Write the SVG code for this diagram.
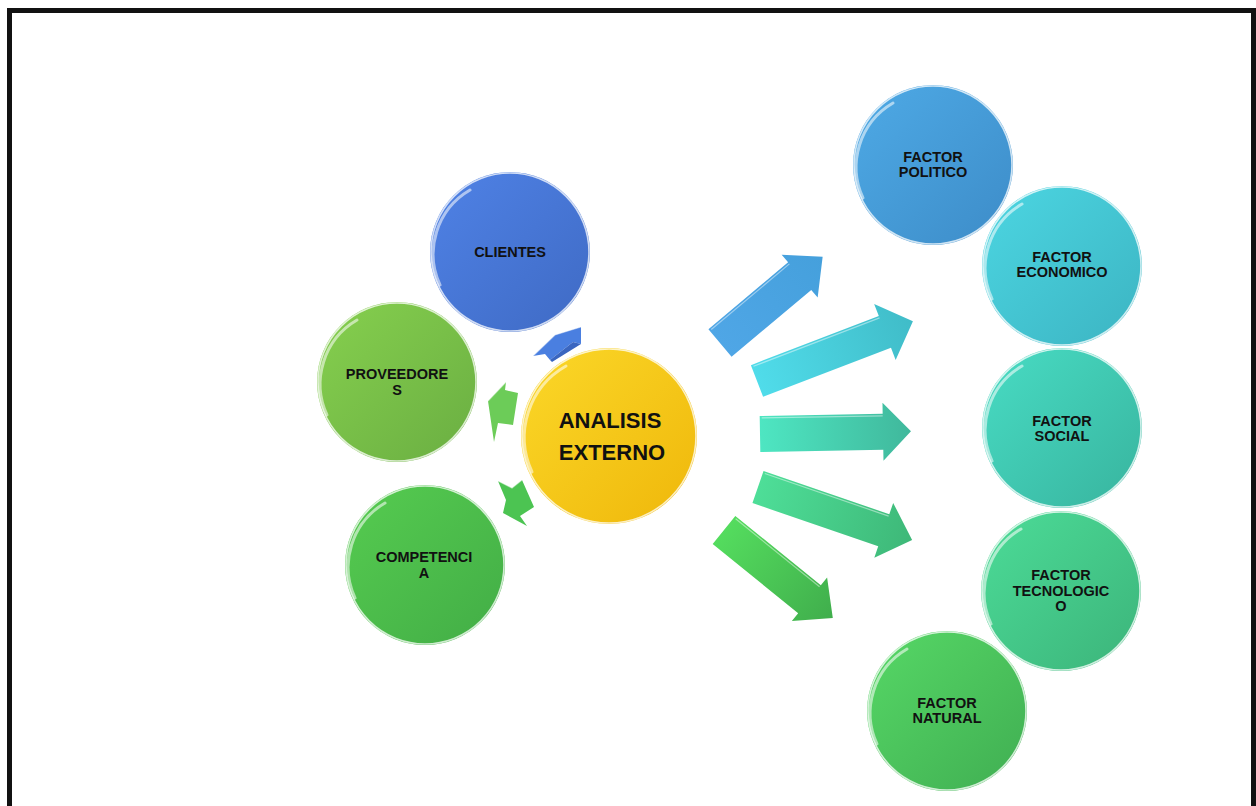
<svg xmlns="http://www.w3.org/2000/svg" width="1256" height="806" viewBox="0 0 1256 806">
  <defs>
    <style>
      .lbl { font-family: "Liberation Sans", Arial, sans-serif; font-weight: bold; font-size: 14.5px; fill: #111; text-anchor: middle; }
      .big { font-family: "Liberation Sans", Arial, sans-serif; font-weight: bold; font-size: 22px; fill: #111; text-anchor: middle; }
      .rim { fill: none; stroke: #ffffff; stroke-opacity: 0.75; stroke-width: 1.6; }
      .shine { fill: none; stroke: #ffffff; stroke-opacity: 0.55; stroke-width: 3; stroke-linecap: round; }
      .edge { fill: none; stroke: #ffffff; stroke-opacity: 0.45; stroke-width: 1.2; }
    </style>
    <!-- sphere fills: light upper-left, deeper lower-right -->
    <linearGradient id="gYellow" x1="0" y1="0" x2="1" y2="1"><stop offset="0" stop-color="#fbd829"/><stop offset="1" stop-color="#efb70a"/></linearGradient>
    <linearGradient id="gBlue" x1="0" y1="0" x2="1" y2="1"><stop offset="0" stop-color="#4f82e6"/><stop offset="1" stop-color="#3f6ac4"/></linearGradient>
    <linearGradient id="gLime" x1="0" y1="0" x2="1" y2="1"><stop offset="0" stop-color="#86d04e"/><stop offset="1" stop-color="#6aae42"/></linearGradient>
    <linearGradient id="gGreen" x1="0" y1="0" x2="1" y2="1"><stop offset="0" stop-color="#56cc50"/><stop offset="1" stop-color="#42ad46"/></linearGradient>
    <linearGradient id="gSky" x1="0" y1="0" x2="1" y2="1"><stop offset="0" stop-color="#4eaae6"/><stop offset="1" stop-color="#3d8cc8"/></linearGradient>
    <linearGradient id="gCyan" x1="0" y1="0" x2="1" y2="1"><stop offset="0" stop-color="#4cd6e2"/><stop offset="1" stop-color="#3cb4c2"/></linearGradient>
    <linearGradient id="gTeal" x1="0" y1="0" x2="1" y2="1"><stop offset="0" stop-color="#48dcc4"/><stop offset="1" stop-color="#38b49e"/></linearGradient>
    <linearGradient id="gMint" x1="0" y1="0" x2="1" y2="1"><stop offset="0" stop-color="#4cdc98"/><stop offset="1" stop-color="#3cb47a"/></linearGradient>
    <linearGradient id="gLeaf" x1="0" y1="0" x2="1" y2="1"><stop offset="0" stop-color="#56d866"/><stop offset="1" stop-color="#40ae52"/></linearGradient>
    <!-- arrow fills: along the shaft -->
    <linearGradient id="aSky" x1="0" y1="0" x2="1" y2="0"><stop offset="0" stop-color="#4fa6e6"/><stop offset="1" stop-color="#45a0dc"/></linearGradient>
    <linearGradient id="aCyan" x1="0" y1="0" x2="1" y2="0"><stop offset="0" stop-color="#50dcea"/><stop offset="1" stop-color="#40bcc8"/></linearGradient>
    <linearGradient id="aTeal" x1="0" y1="0" x2="1" y2="0"><stop offset="0" stop-color="#4ee6c2"/><stop offset="1" stop-color="#40b89c"/></linearGradient>
    <linearGradient id="aMint" x1="0" y1="0" x2="1" y2="0"><stop offset="0" stop-color="#4ede98"/><stop offset="1" stop-color="#3eb878"/></linearGradient>
    <linearGradient id="aLeaf" x1="0" y1="0" x2="1" y2="0"><stop offset="0" stop-color="#54dc5e"/><stop offset="1" stop-color="#40ae4c"/></linearGradient>
  </defs>

  <!-- page frame -->
  <rect x="9.5" y="10.5" width="1244" height="900" fill="#ffffff" stroke="#111111" stroke-width="5"/>

  <!-- connectors -->
  <g id="connectors">
    <!-- small arrows towards the left-hand circles -->
    <polygon points="533,356 555,335 581,327 581,344 573,342 550,360 545,354" fill="#4a7fe0"/>
    <polygon points="550,360 573,342 581,344 552,362" fill="#3a66c0"/>
    <polyline class="edge" points="533,356 555,335 581,327"/>
    <polygon points="488,401 506,382 505,390 518,393 513,425 498,423 494,442" fill="#6ccc58"/>
    <polyline class="edge" points="488,401 506,382"/>
    <polygon points="498,481 512,488 522,480 534,507 520,516 527,526 503,513 506,500" fill="#4cc452"/>
    <polyline class="edge" points="498,481 512,488 522,480"/>

    <!-- large arrows towards the factor circles -->
    <g transform="translate(720,343) rotate(-40)">
      <path d="M0,-18 L104,-18 L104,-28 L134,0 L104,28 L104,18 L0,18 Z" fill="url(#aSky)"/>
      <path class="edge" d="M2,-16 L104,-16"/>
    </g>
    <g transform="translate(757,381) rotate(-21)">
      <path d="M0,-17 L137,-17 L137,-30 L167,0 L137,30 L137,17 L0,17 Z" fill="url(#aCyan)"/>
      <path class="edge" d="M2,-15 L137,-15"/>
    </g>
    <g transform="translate(760,434) rotate(-1)">
      <path d="M0,-18 L123,-18 L123,-29 L151,0 L123,29 L123,18 L0,18 Z" fill="url(#aTeal)"/>
      <path class="edge" d="M2,-16 L123,-16"/>
    </g>
    <g transform="translate(758,487) rotate(19)">
      <path d="M0,-17 L133,-17 L133,-29 L163,0 L133,29 L133,17 L0,17 Z" fill="url(#aMint)"/>
      <path class="edge" d="M2,-15 L133,-15"/>
    </g>
    <g transform="translate(724,530) rotate(39)">
      <path d="M0,-18 L110,-18 L110,-28 L140,0 L110,28 L110,18 L0,18 Z" fill="url(#aLeaf)"/>
      <path class="edge" d="M2,-16 L110,-16"/>
    </g>
  </g>

  <!-- nodes -->
  <g id="clientes">
    <circle cx="510" cy="252" r="80" fill="url(#gBlue)"/>
    <circle class="rim" cx="510" cy="252" r="79"/>
    <path class="shine" d="M440,285 A74,74 0 0 1 470,190"/>
    <text class="lbl" x="510" y="257">CLIENTES</text>
  </g>

  <g id="proveedores">
    <circle cx="397" cy="382" r="80" fill="url(#gLime)"/>
    <circle class="rim" cx="397" cy="382" r="79"/>
    <path class="shine" d="M327,415 A74,74 0 0 1 357,320"/>
    <text class="lbl" x="397" y="379">PROVEEDORE</text>
    <text class="lbl" x="397" y="395">S</text>
  </g>

  <g id="competencia">
    <circle cx="425" cy="565" r="80" fill="url(#gGreen)"/>
    <circle class="rim" cx="425" cy="565" r="79"/>
    <path class="shine" d="M355,598 A74,74 0 0 1 385,503"/>
    <text class="lbl" x="424" y="562">COMPETENCI</text>
    <text class="lbl" x="424" y="578">A</text>
  </g>

  <g id="analisis-externo">
    <circle cx="609" cy="436" r="88" fill="url(#gYellow)"/>
    <circle class="rim" cx="609" cy="436" r="87"/>
    <path class="shine" d="M532,472 A82,82 0 0 1 566,366"/>
    <text class="big" x="610" y="428">ANALISIS</text>
    <text class="big" x="612" y="460">EXTERNO</text>
  </g>

  <g id="factor-politico">
    <circle cx="933" cy="165" r="80" fill="url(#gSky)"/>
    <circle class="rim" cx="933" cy="165" r="79"/>
    <path class="shine" d="M863,198 A74,74 0 0 1 893,103"/>
    <text class="lbl" x="933" y="162">FACTOR</text>
    <text class="lbl" x="933" y="177">POLITICO</text>
  </g>

  <g id="factor-economico">
    <circle cx="1062" cy="266" r="80" fill="url(#gCyan)"/>
    <circle class="rim" cx="1062" cy="266" r="79"/>
    <path class="shine" d="M992,299 A74,74 0 0 1 1022,204"/>
    <text class="lbl" x="1062" y="262">FACTOR</text>
    <text class="lbl" x="1062" y="277">ECONOMICO</text>
  </g>

  <g id="factor-social">
    <circle cx="1062" cy="428" r="80" fill="url(#gTeal)"/>
    <circle class="rim" cx="1062" cy="428" r="79"/>
    <path class="shine" d="M992,461 A74,74 0 0 1 1022,366"/>
    <text class="lbl" x="1062" y="426">FACTOR</text>
    <text class="lbl" x="1062" y="441">SOCIAL</text>
  </g>

  <g id="factor-tecnologico">
    <circle cx="1061" cy="591" r="80" fill="url(#gMint)"/>
    <circle class="rim" cx="1061" cy="591" r="79"/>
    <path class="shine" d="M991,624 A74,74 0 0 1 1021,529"/>
    <text class="lbl" x="1061" y="580">FACTOR</text>
    <text class="lbl" x="1061" y="596">TECNOLOGIC</text>
    <text class="lbl" x="1061" y="611">O</text>
  </g>

  <g id="factor-natural">
    <circle cx="947" cy="711" r="80" fill="url(#gLeaf)"/>
    <circle class="rim" cx="947" cy="711" r="79"/>
    <path class="shine" d="M877,744 A74,74 0 0 1 907,649"/>
    <text class="lbl" x="947" y="708">FACTOR</text>
    <text class="lbl" x="947" y="723">NATURAL</text>
  </g>
</svg>
